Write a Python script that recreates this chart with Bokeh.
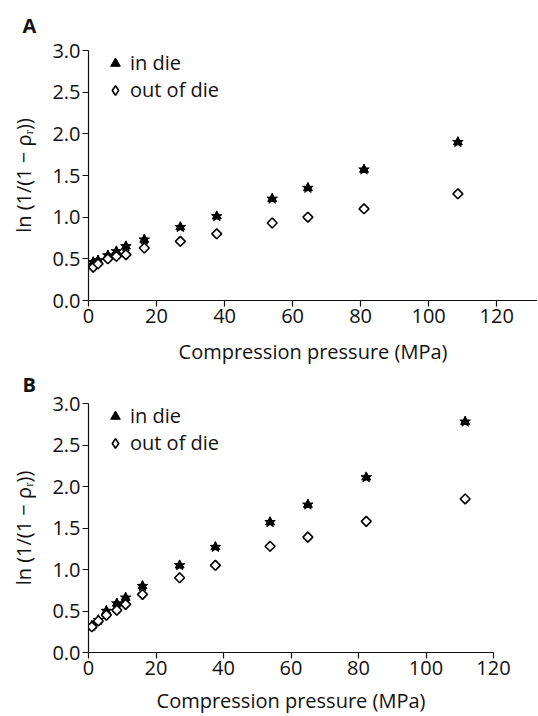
import math
from bokeh.plotting import figure
from bokeh.layouts import column
from bokeh.models import (FixedTicker, PrintfTickFormatter, Legend, LegendItem,
                          Range1d, Title)
from bokeh.embed import file_html
from bokeh.resources import INLINE

# ---- data ----
a_x = [1.4, 2.8, 5.7, 8.2, 11.0, 16.4, 27.0, 37.7, 54.0, 64.5, 81.0, 108.6]
a_in_die = [0.46, 0.48, 0.54, 0.59, 0.65, 0.73, 0.88, 1.01, 1.22, 1.35, 1.57, 1.90]
a_out_die = [0.40, 0.44, 0.50, 0.53, 0.55, 0.63, 0.71, 0.80, 0.93, 1.00, 1.10, 1.28]

b_x = [1.0, 2.9, 5.3, 8.4, 11.0, 16.0, 27.0, 37.6, 53.8, 65.0, 82.3, 111.6]
b_in_die = [0.32, 0.39, 0.50, 0.59, 0.66, 0.80, 1.05, 1.27, 1.57, 1.78, 2.11, 2.78]
b_out_die = [0.31, 0.38, 0.45, 0.51, 0.58, 0.70, 0.90, 1.05, 1.28, 1.39, 1.58, 1.85]

y_ticks = [0.0, 0.5, 1.0, 1.5, 2.0, 2.5, 3.0]
x_ticks = [0, 20, 40, 60, 80, 100, 120]
series_labels = ["in die", "out of die"]
panel_labels = ["A", "B"]
x_label = "Compression pressure (MPa)"
y_label = "ln (1/(1 \u2212 \u03c1\u1d63))"

FONT = "Open Sans"
FS = "20px"
LFS = "20px"
INK = "#111111"


def make_panel(tag, title_standoff, xs, y_in, y_out, x_max, frame_w, frame_h,
               top, right, label_standoff):
    p = figure(frame_width=frame_w, frame_height=frame_h,
               x_range=Range1d(0, x_max), y_range=Range1d(0, 3.0),
               output_backend="svg", toolbar_location=None,
               min_border_left=88, min_border_right=right,
               min_border_top=top, min_border_bottom=0)
    p.outline_line_color = None
    p.grid.visible = False
    p.background_fill_color = "white"
    p.border_fill_color = "white"

    p.title = Title(text=tag, align="left", offset=-66,
                    standoff=title_standoff, vertical_align="top",
                    text_font=FONT, text_font_size=FS,
                    text_font_style="bold", text_color=INK)

    for ax in (p.xaxis[0], p.yaxis[0]):
        ax.axis_line_color = INK
        ax.axis_line_width = 1.2
        ax.major_tick_line_color = INK
        ax.major_tick_line_width = 1.2
        ax.major_tick_out = 6
        ax.major_tick_in = 0
        ax.minor_tick_line_color = None
        ax.major_label_text_font = FONT
        ax.major_label_text_font_size = FS
        ax.major_label_text_color = INK
        ax.axis_label_text_font = FONT
        ax.axis_label_text_font_size = FS
        ax.axis_label_text_font_style = "normal"
        ax.axis_label_text_color = INK

    p.xaxis.ticker = FixedTicker(ticks=x_ticks)
    p.yaxis.ticker = FixedTicker(ticks=y_ticks)
    p.yaxis.formatter = PrintfTickFormatter(format="%.1f")
    p.xaxis.major_label_standoff = 2
    p.yaxis.major_label_standoff = 2
    p.xaxis.axis_label = x_label
    p.yaxis.axis_label = y_label
    p.xaxis.axis_label_standoff = label_standoff
    p.yaxis.axis_label_standoff = 12

    # in die: star-like filled marks, with a triangle (legend symbol)
    tri = p.scatter(xs, y_in, marker="triangle", size=9, fill_color="black",
                    line_color="black")
    p.scatter(xs, y_in, marker="star", size=11, fill_color="black",
              line_color="black")
    # out of die: open diamonds (legend symbol under a rotated open square)
    dia = p.scatter(xs, y_out, marker="diamond", size=9, fill_color="white",
                    line_color="black", line_width=1.6)
    p.scatter(xs, y_out, marker="square", size=7, angle=math.pi / 4,
              fill_color="white", line_color="black", line_width=1.6)

    common = dict(padding=0, margin=0, spacing=0, glyph_width=24,
                  glyph_height=24, label_height=24, label_standoff=3,
                  label_text_font=FONT, label_text_font_size=LFS,
                  label_text_color=INK, border_line_color=None,
                  background_fill_alpha=0)
    leg1 = Legend(items=[LegendItem(label=series_labels[0], renderers=[tri])],
                  location=(15, frame_h - 26), **common)
    leg2 = Legend(items=[LegendItem(label=series_labels[1], renderers=[dia])],
                  location=(15, frame_h - 53), **common)
    p.add_layout(leg1)
    p.add_layout(leg2)
    return p


pa = make_panel(panel_labels[0], 20, a_x, a_in_die, a_out_die, 132, 449, 250,
                50, 0, 12)
pb = make_panel(panel_labels[1], 7, b_x, b_in_die, b_out_die, 120, 405, 249,
                0, 44, 9)

layout = column(pa, pb, spacing=0)
open("out.html", "w").write(file_html(layout, INLINE))
